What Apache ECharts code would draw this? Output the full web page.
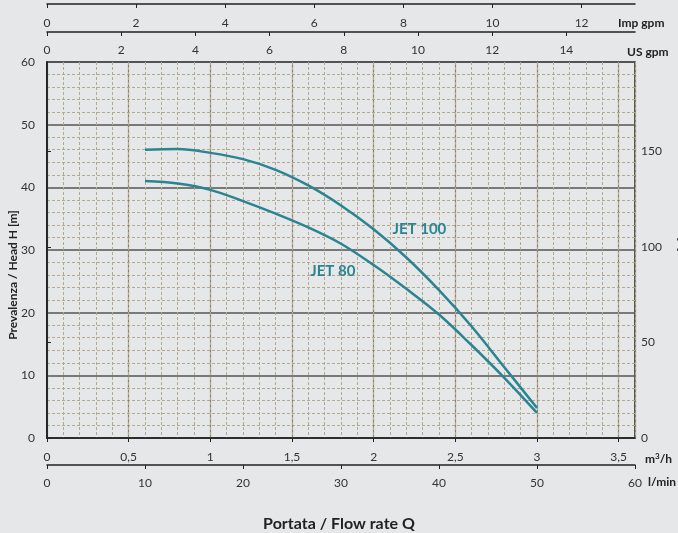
<!DOCTYPE html>
<html>
<head>
<meta charset="utf-8">
<script src="https://cdn.jsdelivr.net/npm/echarts@6/dist/echarts.min.js"></script>
<style>
  html, body { margin: 0; padding: 0; background: #e6e7e9; }
  #chart { width: 678px; height: 533px; }
</style>
</head>
<body>
<div id="chart"></div>
<script>
var FONT = "Lato, 'Open Sans', sans-serif"

// flow rate in m3/h, head in m
var flowJet100 = [0.6, 0.8, 1.0, 1.2, 1.4, 1.6, 1.8, 2.0, 2.2, 2.4, 2.6, 2.8, 3.0]
var headJet100 = [46.0, 46.1, 45.5, 44.5, 42.8, 40.3, 37.1, 33.3, 28.8, 23.6, 17.8, 11.3, 4.8]
var flowJet80 = [0.6, 0.8, 1.0, 1.2, 1.4, 1.6, 1.8, 2.0, 2.2, 2.4, 2.6, 2.8, 3.0]
var headJet80 = [41.0, 40.6, 39.6, 37.8, 35.8, 33.6, 31.0, 27.6, 23.8, 19.7, 14.8, 9.6, 4.0]

// curve label anchors [m3/h, m]
var labelJet100 = [2.28, 33.4]
var labelJet80 = [1.75, 26.6]

// axis ranges (same full scale of 60 l/min)
var maxM3h = 3.6
var maxLmin = 60
var maxUsGpm = 60 / 3.78541
var maxImpGpm = 60 / 4.54609
var maxHeadM = 60
var maxHeadFt = 60 / 0.3048

var teal = "#2a8590"
var labelStyle = { color: "#333", fontSize: 12, fontFamily: FONT }
var nameStyle = { fill: "#222", fontSize: 12, fontWeight: "bold", fontFamily: FONT, verticalAlign: "middle" }

var chart = echarts.init(document.getElementById("chart"))

function toPairs(xs, ys) {
    return xs.map(function (x, i) { return [x, ys[i]] })
}

function unitText(x, y, text, extra) {
    return { type: "text", x: x, y: y, style: Object.assign({ text: text }, nameStyle, extra || {}) }
}

var option = {
    backgroundColor: "#e6e7e9",
    animation: false,
    title: {
        text: "Portata / Flow rate Q",
        left: "center",
        top: 511,
        textStyle: { color: "#222", fontSize: 16, fontWeight: "bold", fontFamily: FONT }
    },
    grid: {
        left: 47, right: 43, top: 62, bottom: 95,
        containLabel: false, outerBoundsMode: "none",
        show: true, borderColor: "#222", borderWidth: 1.5, backgroundColor: "transparent"
    },
    graphic: [
        unitText(618, 23, "Imp gpm"),
        unitText(627, 52, "US gpm"),
        unitText(645, 459, "m{s|3}/h", {
            rich: { s: { fontSize: 8, fontWeight: "bold", fontFamily: FONT, verticalAlign: "top", padding: [0, 0, 5, 0] } }
        }),
        unitText(648, 482, "l/min"),
        {
            type: "text", x: 13, y: 275, rotation: Math.PI / 2,
            style: { text: "Prevalenza / Head H [m]", fill: "#222", fontSize: 12, fontWeight: "bold",
                     fontFamily: FONT, align: "center", verticalAlign: "middle" }
        }
    ],
    xAxis: [
        {   // m3/h, main data axis
            type: "value", position: "bottom",
            min: 0, max: maxM3h, interval: 0.5,
            axisLine: { show: true, lineStyle: { color: "#222", width: 1.5 } },
            axisTick: { show: true, length: 4, lineStyle: { color: "#222" } },
            axisLabel: Object.assign({}, labelStyle, {
                margin: 13, showMaxLabel: false,
                formatter: function (v) { return String(v).replace(".", ",") }
            }),
            splitLine: { show: true, lineStyle: { color: "#8a8268", width: 1.2 } }
        },
        {   // minor vertical grid every 0.1 m3/h
            type: "value", position: "bottom",
            min: 0, max: maxM3h, interval: 0.1,
            axisLine: { show: false }, axisTick: { show: false }, axisLabel: { show: false },
            splitLine: { show: true, lineStyle: { color: "#b3a98f", width: 1, type: [3, 2] } },
            z: 0
        },
        {   // l/min
            type: "value", position: "bottom", offset: 27,
            min: 0, max: maxLmin, interval: 10,
            axisLine: { show: true, lineStyle: { color: "#222", width: 1.5 } },
            axisTick: { show: true, length: 4, lineStyle: { color: "#222" } },
            axisLabel: Object.assign({}, labelStyle, { margin: 12 }),
            splitLine: { show: false }
        },
        {   // US gpm
            type: "value", position: "top", offset: 30,
            min: 0, max: maxUsGpm, interval: 2,
            axisLine: { show: true, lineStyle: { color: "#222", width: 1.5 } },
            axisTick: { show: true, inside: true, length: 4, lineStyle: { color: "#222" } },
            axisLabel: Object.assign({}, labelStyle, { inside: true, margin: 12, showMaxLabel: false }),
            splitLine: { show: false }
        },
        {   // Imp gpm
            type: "value", position: "top", offset: 58,
            min: 0, max: maxImpGpm, interval: 2,
            axisLine: { show: true, lineStyle: { color: "#222", width: 1.5 } },
            axisTick: { show: true, inside: true, length: 4, lineStyle: { color: "#222" } },
            axisLabel: Object.assign({}, labelStyle, { inside: true, margin: 13, showMaxLabel: false }),
            splitLine: { show: false }
        }
    ],
    yAxis: [
        {   // head in m
            type: "value", position: "left",
            min: 0, max: maxHeadM, interval: 10,
            axisLine: { show: true, lineStyle: { color: "#222", width: 1.5 } },
            axisTick: { show: false },
            axisLabel: Object.assign({}, labelStyle, { margin: 12 }),
            splitLine: { show: true, lineStyle: { color: "#555", width: 1.5 } },
            minorTick: { show: false, splitNumber: 5 },
            minorSplitLine: { show: true, lineStyle: { color: "#b3a98f", width: 1, type: [3, 2] } }
        },
        {   // head in ft
            type: "value", position: "right",
            min: 0, max: maxHeadFt, interval: 50,
            name: "H [ft]", nameLocation: "middle", nameGap: 42,
            nameTextStyle: { color: "#222", fontSize: 11, fontWeight: "bold", fontFamily: FONT },
            axisLine: { show: true, lineStyle: { color: "#222", width: 1.5 } },
            axisTick: { show: true, length: 4, lineStyle: { color: "#222" } },
            axisLabel: Object.assign({}, labelStyle, { margin: 6, showMaxLabel: false }),
            splitLine: { show: false }
        }
    ],
    series: [
        {
            name: "JET 100", type: "line", smooth: 0.35,
            xAxisIndex: 0, yAxisIndex: 0,
            data: toPairs(flowJet100, headJet100),
            showSymbol: false,
            lineStyle: { color: teal, width: 2.5 },
            markPoint: {
                symbol: "circle", symbolSize: 0,
                label: { show: true, position: "inside", formatter: "JET 100",
                         color: teal, fontSize: 15, fontWeight: "bold", fontFamily: FONT },
                data: [{ coord: labelJet100 }]
            }
        },
        {
            name: "JET 80", type: "line", smooth: 0.35,
            xAxisIndex: 0, yAxisIndex: 0,
            data: toPairs(flowJet80, headJet80),
            showSymbol: false,
            lineStyle: { color: teal, width: 2.5 },
            markPoint: {
                symbol: "circle", symbolSize: 0,
                label: { show: true, position: "inside", formatter: "JET 80",
                         color: teal, fontSize: 15, fontWeight: "bold", fontFamily: FONT },
                data: [{ coord: labelJet80 }]
            }
        }
    ]
}

chart.setOption(option)
</script>
</body>
</html>
